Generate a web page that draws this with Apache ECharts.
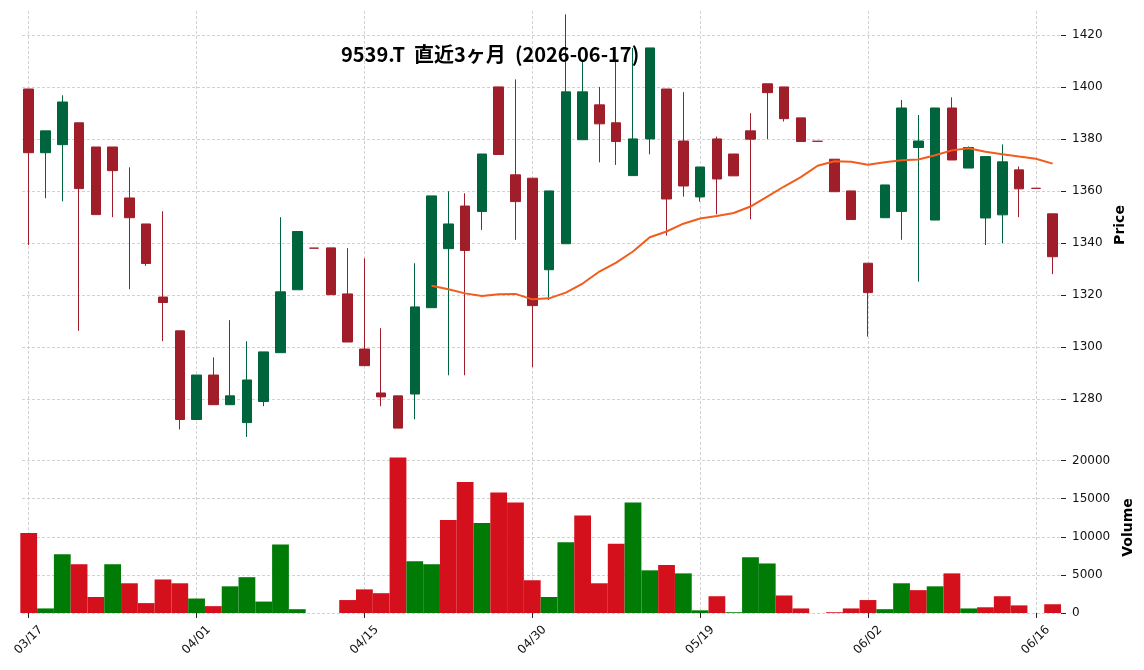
<!DOCTYPE html>
<html>
<head>
<meta charset="utf-8">
<script src="https://cdn.jsdelivr.net/npm/echarts@6/dist/echarts.min.js"></script>
<style>
html,body{margin:0;padding:0;background:#ffffff;}
#chart{width:1144px;height:670px;}
</style>
</head>
<body>
<div id="chart"></div>
<script>
// ---------------- data ----------------
const chartTitle = '9539.T  直近3ヶ月  (2026-06-17)';

const dates = [
  '03/17','03/18','03/19','03/23','03/24','03/25','03/26','03/27','03/30','03/31',
  '04/01','04/02','04/03','04/06','04/07','04/08','04/09','04/10','04/13','04/14',
  '04/15','04/16','04/17','04/20','04/21','04/22','04/23','04/24','04/27','04/28',
  '04/30','05/01','05/07','05/08','05/11','05/12','05/13','05/14','05/15','05/18',
  '05/19','05/20','05/21','05/22','05/25','05/26','05/27','05/28','05/29','06/01',
  '06/02','06/03','06/04','06/05','06/08','06/09','06/10','06/11','06/12','06/15',
  '06/16','06/17'
];

const opens = [
  1399.2,1374.7,1377.8,1386.2,1376.9,1376.9,1357.3,1347.3,1319.2,1306.2,
  1272.1,1289.2,1277.8,1270.9,1279.0,1297.8,1322.0,1338.0,1338.1,1320.4,
  1299.2,1282.3,1281.2,1281.9,1315.1,1337.8,1354.2,1352.1,1400.0,1366.2,
  1364.9,1329.7,1339.7,1379.7,1393.1,1386.2,1365.9,1380.0,1399.2,1379.2,
  1357.7,1380.0,1374.2,1383.1,1401.2,1400.0,1388.1,1379.1,1372.2,1360.0,
  1332.2,1349.7,1352.1,1376.7,1348.8,1391.9,1368.8,1349.6,1350.8,1368.1,
  1361.0,1351.2
];
const closes = [
  1374.7,1383.1,1394.2,1360.9,1350.9,1367.8,1349.7,1332.1,1317.1,1272.1,
  1289.2,1277.8,1281.2,1287.3,1298.1,1321.2,1344.4,1338.0,1320.1,1301.9,
  1292.8,1280.8,1268.8,1315.4,1358.1,1347.3,1337.1,1374.2,1374.0,1355.9,
  1315.9,1360.0,1398.1,1398.1,1385.8,1379.0,1380.0,1415.0,1356.9,1361.9,
  1369.2,1364.6,1365.8,1379.9,1397.8,1387.8,1379.0,1379.1,1359.7,1349.0,
  1320.9,1362.3,1391.9,1379.2,1391.9,1371.9,1376.7,1373.2,1371.2,1360.8,
  1361.0,1334.7
];
const lows = [
  1339.2,1357.2,1356.0,1306.2,1350.9,1349.9,1322.2,1331.2,1302.2,1268.3,
  1272.1,1277.8,1277.8,1265.4,1277.2,1297.8,1322.0,1338.0,1320.1,1301.9,
  1292.8,1277.2,1268.8,1272.2,1315.1,1289.1,1289.1,1345.0,1374.0,1341.2,
  1292.2,1318.1,1339.7,1379.7,1371.0,1370.0,1365.9,1374.1,1342.8,1357.8,
  1355.9,1351.0,1365.8,1349.1,1379.9,1386.7,1379.0,1379.1,1359.7,1349.0,
  1304.0,1349.7,1341.2,1325.1,1348.8,1371.9,1368.8,1339.2,1339.9,1349.9,
  1361.0,1328.0
];
const highs = [
  1399.2,1383.1,1396.8,1386.2,1376.9,1376.9,1369.1,1347.3,1352.2,1306.2,
  1289.2,1296.0,1310.3,1302.2,1298.1,1349.9,1344.4,1338.0,1338.1,1338.0,
  1334.1,1307.2,1281.2,1332.2,1358.1,1359.9,1359.1,1374.2,1400.0,1402.9,
  1364.9,1360.0,1427.9,1410.4,1400.0,1410.4,1415.0,1415.0,1399.2,1398.0,
  1369.2,1380.9,1374.2,1389.9,1401.2,1400.0,1388.1,1379.1,1372.2,1360.0,
  1332.2,1362.3,1395.0,1389.2,1391.9,1396.0,1377.1,1373.2,1377.9,1369.4,
  1361.0,1351.2
];
const volumes = [
  10500,600,7700,6400,2100,6400,3900,1300,4400,3900,
  1900,900,3500,4700,1500,9000,500,0,0,1700,
  3100,2600,20400,6800,6400,12200,17200,11800,15800,14500,
  4300,2100,9300,12800,3900,9100,14500,5600,6300,5200,
  350,2200,100,7300,6500,2300,600,0,100,600,
  1700,500,3900,3000,3500,5200,600,750,2200,1000,
  0,1150
];
const ma25 = [
  null,null,null,null,null,null,null,null,null,null,
  null,null,null,null,null,null,null,null,null,null,
  null,null,null,null,1323.5,1322.2,1320.6,1319.6,1320.3,1320.4,
  1318.3,1318.7,1320.9,1324.4,1329.0,1332.4,1336.7,1342.2,1344.4,1347.4,
  1349.4,1350.4,1351.5,1354.0,1357.8,1361.7,1365.3,1369.7,1371.4,1371.2,
  1370.1,1371.0,1371.8,1372.1,1373.7,1375.6,1376.4,1375.1,1374.1,1373.2,
  1372.4,1370.5
];

const xTickLabels = ['03/17','04/01','04/15','04/30','05/19','06/02','06/16'];
const priceTicks = [1280,1300,1320,1340,1360,1380,1400,1420];
const volumeTicks = [0,5000,10000,15000,20000];

// ---------------- styles ----------------
const CANDLE_UP = '#00643c';
const CANDLE_DOWN = '#a01e2a';
const VOL_UP = '#007b06';
const VOL_DOWN = '#d5101d';
const MA_COLOR = '#f25c1c';
const GRID_COLOR = '#c6c6c6';
const TEXT_COLOR = '#111111';
const TICK_FONT = 'DejaVu Sans';

// ---------------- build ----------------
const idx = dates.map((_, i) => i);
const candleData = idx.map(i => [i, opens[i], closes[i], lows[i], highs[i]]);
const volData = idx.map(i => {
  const up = i === 0 ? opens[0] < closes[0] : closes[i - 1] < closes[i];
  return { value: [i, volumes[i]], itemStyle: { color: up ? VOL_UP : VOL_DOWN } };
});
const maData = idx.filter(i => ma25[i] != null).map(i => [i, ma25[i]]);
const xTickIdx = xTickLabels.map(l => dates.indexOf(l));

const splitLineStyle = { show: true, lineStyle: { color: GRID_COLOR, type: [3, 2], width: 0.8 } };

function xAxisFor(gi, showLabels) {
  return {
    type: 'value', gridIndex: gi, min: -0.4, max: 61.5,
    axisLine: { show: false, onZero: false },
    axisTick: { show: showLabels, customValues: xTickIdx, length: 5, lineStyle: { color: '#222', width: 1 } },
    axisLabel: {
      show: showLabels, customValues: xTickIdx,
      formatter: v => dates[Math.round(v)] || '',
      rotate: 45, align: 'center', verticalAlign: 'middle', margin: 27,
      fontSize: 12, fontFamily: TICK_FONT, color: TEXT_COLOR
    },
    splitLine: splitLineStyle
  };
}

function yAxisFor(gi, min, max, splitNumber, ticks, name, gap) {
  return {
    type: 'value', gridIndex: gi, position: 'right',
    min: min, max: max, splitNumber: splitNumber,
    axisLine: { show: false, onZero: false },
    axisTick: { show: true, customValues: ticks, length: 5, lineStyle: { color: '#222' } },
    axisLabel: {
      customValues: ticks, margin: 11, fontSize: 12, fontFamily: TICK_FONT, color: TEXT_COLOR,
      formatter: v => String(v)
    },
    splitLine: splitLineStyle,
    name: name, nameLocation: 'middle', nameRotate: 90, nameGap: gap,
    nameTextStyle: { fontFamily: 'DejaVu Sans', fontWeight: 'bold', fontSize: 14, color: '#000' }
  };
}

const chart = echarts.init(document.getElementById('chart'), null, { renderer: 'canvas' });
chart.setOption({
  animation: false,
  backgroundColor: '#ffffff',
  title: {
    text: chartTitle, left: 341, top: 44, padding: 0,
    textStyle: { fontFamily: 'Noto Sans CJK JP', fontWeight: 'bold', fontSize: 20, color: '#000' }
  },
  grid: [
    { left: 22, right: 83, top: 11, height: 428 },
    { left: 22, right: 83, top: 442, height: 171 }
  ],
  xAxis: [xAxisFor(0, false), xAxisFor(1, true)],
  yAxis: [
    yAxisFor(0, 1264.6, 1429.2, 8, priceTicks, 'Price', 45),
    yAxisFor(1, 0, 22440, 5, volumeTicks, 'Volume', 54)
  ],
  series: [
    {
      type: 'candlestick', xAxisIndex: 0, yAxisIndex: 0,
      data: candleData, barWidth: 10,
      itemStyle: {
        color: CANDLE_UP, color0: CANDLE_DOWN,
        borderColor: CANDLE_UP, borderColor0: CANDLE_DOWN, borderColorDoji: CANDLE_DOWN,
        borderWidth: 1
      }
    },
    {
      type: 'line', xAxisIndex: 0, yAxisIndex: 0,
      data: maData, showSymbol: false, symbol: 'none', z: 3,
      lineStyle: { color: MA_COLOR, width: 2 }
    },
    {
      type: 'bar', xAxisIndex: 1, yAxisIndex: 1,
      data: volData, barWidth: '100%'
    }
  ]
});
</script>
</body>
</html>
